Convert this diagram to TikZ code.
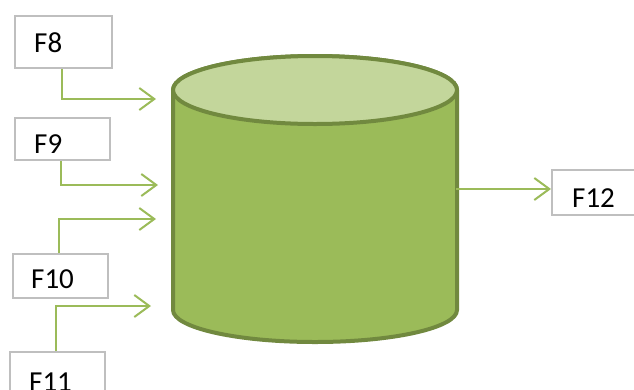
\documentclass[tikz,border=0pt]{standalone}
\usepackage{fontspec}
\setmainfont{Carlito}
\usetikzlibrary{arrows.meta}
\definecolor{gline}{RGB}{155,187,89}
\definecolor{gfill}{RGB}{155,187,89}
\definecolor{gtop}{RGB}{195,214,155}
\definecolor{gdark}{RGB}{113,137,63}
\definecolor{boxgray}{RGB}{191,191,191}
\tikzset{
  fbox/.style={draw=boxgray, line width=2pt, fill=white, anchor=north west, inner sep=0pt},
  flabel/.style={anchor=west, inner sep=0pt, font=\fontsize{29}{32}\selectfont},
  conn/.style={draw=gline, line width=2pt, -{Straight Barb[length=15pt,width=22pt,line width=2pt]}},
}
\begin{document}
\begin{tikzpicture}[x=1pt,y=1pt]
\useasboundingbox (0,0) rectangle (634,-389);
\clip (0,0) rectangle (634,-389);
% cylinder
\path[fill=gfill, draw=gdark, line width=4pt]
  (173,-90) -- (173,-310) arc[start angle=180, end angle=360, x radius=142, y radius=32]
  -- (457,-90) arc[start angle=0, end angle=180, x radius=142, y radius=34] -- cycle;
\path[fill=gtop, draw=gdark, line width=4pt] (315,-90) ellipse[x radius=142, y radius=34];
\coordinate (cylR) at (456,-189);
% boxes
\node[fbox, minimum width=97pt, minimum height=52pt] (f8) at (14,-15) {};
\node[flabel] (t8) at (34,-43) {F8};
\node[fbox, minimum width=95pt, minimum height=42pt] (f9) at (14,-117) {};
\node[flabel] (t9) at (34,-144) {F9};
\node[fbox, minimum width=95pt, minimum height=44pt] (f10) at (12,-253) {};
\node[flabel] (t10) at (31,-279) {F10};
\node[fbox, minimum width=95pt, minimum height=60pt] (f11) at (9,-351) {};
\node[flabel] (t11) at (29,-382) {F11};
\node[fbox, minimum width=90pt, minimum height=45pt] (f12) at (551,-169) {};
\node[flabel] (t12) at (572,-198) {F12};
% target points
\coordinate (a8) at (156,-99);
\coordinate (a9) at (158,-185);
\coordinate (a10) at (156,-219);
\coordinate (a11) at (151,-306);
% connectors
\draw[conn] (f8.south -| 62,0) |- (a8);
\draw[conn] (f9.south -| 61,0) |- (a9);
\draw[conn] (f10.north -| 59,0) |- (a10);
\draw[conn] (f11.north -| 56,0) |- (a11);
\draw[conn] (cylR) -- (f12.west |- cylR);
\end{tikzpicture}
\end{document}
